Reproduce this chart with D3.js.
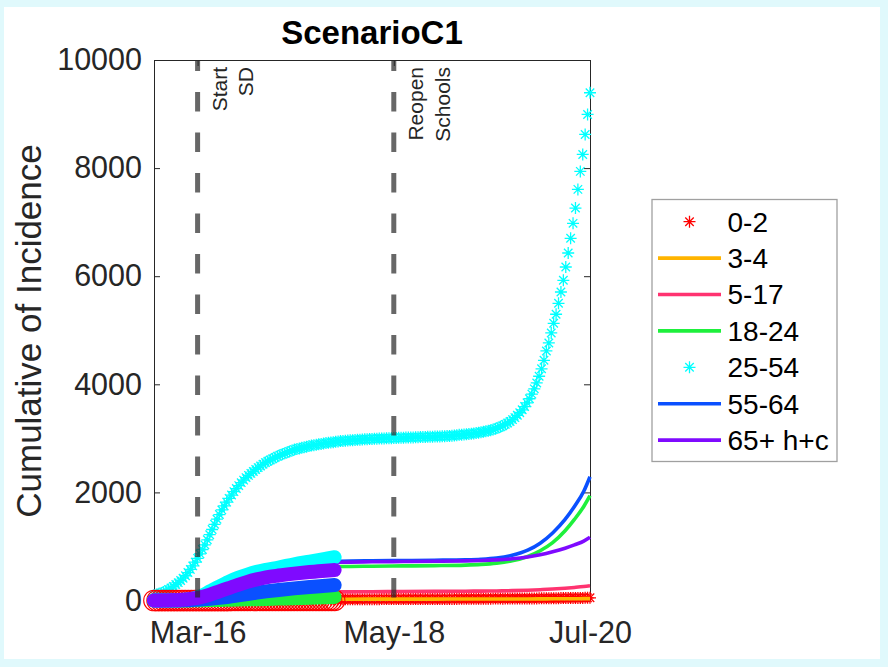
<!DOCTYPE html>
<html><head><meta charset="utf-8">
<script src="https://cdn.jsdelivr.net/npm/d3@7"></script>
<style>body{margin:0;background:#e0f9fc} svg{display:block}</style>
</head><body><svg id="c" width="888" height="667"></svg>
<script>
// ---------------- DATA ----------------
const seriesNames = ["0-2","3-4","5-17","18-24","25-54","55-64","65+ h+c"];
const seriesColors = ["#ff0000","#ffb400","#ff3370","#1ef03c","#00ffff","#0a50ff","#7f0aff"];
const seriesKinds = ["star","line","line","line","star","line","line"];

const yTicks = [0,2000,4000,6000,8000,10000];
const xTickDates = ["2020-03-16","2020-05-18","2020-07-20"];
const xTickLabels = ["Mar-16","May-18","Jul-20"];
const events = ["2020-03-16","2020-05-18"];
const eventLabels = [["Start","SD"],["Reopen","Schools"]];

// model output grid: 181 points from Mar-02 to Jul-20 (days since Mar-02)
const gridCount = 181, gridSpan = 140;
const model25_54 = [
 100,112,123,138,158,177,203,230,260,
 295,330,370,413,458,517,575,640,710,
 780,862,944,1030,1123,1217,1314,1410,1504,
 1590,1676,1750,1820,1889,1951,2014,2071,2125,
 2180,2227,2274,2315,2352,2388,2425,2458,2489,
 2520,2551,2577,2600,2623,2647,2670,2690,2707,
 2724,2741,2758,2775,2792,2802,2813,2824,2835,
 2846,2857,2866,2873,2881,2889,2897,2904,2912,
 2918,2924,2930,2937,2943,2949,2953,2956,2960,
 2963,2966,2970,2973,2976,2979,2982,2984,2987,
 2990,2992,2994,2996,2997,2999,3001,3003,3004,
 3006,3008,3009,3011,3012,3014,3015,3017,3018,
 3020,3022,3023,3025,3026,3028,3029,3031,3032,
 3034,3036,3038,3040,3042,3045,3048,3052,3056,
 3065,3068,3072,3076,3081,3086,3092,3098,3105,
 3113,3121,3130,3140,3152,3165,3179,3195,3214,
 3234,3258,3284,3313,3347,3384,3426,3474,3528,
 3588,3656,3733,3818,3916,4025,4149,4287,4444,
 4617,4765,4950,5129,5296,5499,5708,5924,6170,6429,
 6701,6978,7261,7606,7939,8253,8623,8993,9394
];
const model0_2 = [
 0,0,0,0,1,1,1,1,2,
 2,2,3,3,3,4,4,5,5,
 6,6,7,7,8,8,9,9,10,
 10,11,11,12,12,13,13,13,14,
 14,14,15,15,15,16,16,16,17,
 17,17,17,18,18,18,18,19,19,
 19,19,20,20,20,20,20,21,21,
 21,21,21,21,22,22,22,22,22,
 22,23,23,23,23,23,23,24,24,
 24,24,24,24,24,25,25,25,25,
 25,25,25,25,26,26,26,26,26,
 26,26,27,27,27,27,27,27,27,
 28,28,28,28,28,28,28,29,29,
 29,29,29,29,30,30,30,30,30,
 31,31,31,31,32,32,32,32,33,
 33,33,34,34,34,35,35,36,36,
 34,35,35,35,36,36,36,37,37,
 37,38,38,38,39,39,40,40,41,
 41,41,42,42,43,43,44,44,45,
 45,46,46,47,47,48,48,49,49,50
];

// model lines (days since Mar-02)
const lineDays = [0,5,10,14,18,22,26,30,35,40,45,50,55,60,70,80,90,100,105,110,115,120,124,128,132,135,138,140];
const model3_4   = [0,0,2,5,9,13,16,18,20,21,22,23,24,24,25,26,26,27,27,28,28,29,30,31,32,33,34,35];
const model5_17  = [0,2,10,30,60,90,110,125,137,145,150,154,157,160,163,166,169,172,174,177,182,190,200,212,228,242,258,272];
const model18_24 = [2,8,30,80,150,240,330,410,480,530,570,595,615,628,635,640,645,655,668,692,735,815,920,1070,1290,1500,1740,1940];
const model55_64 = [5,15,50,140,230,320,400,470,545,600,645,680,705,725,735,740,745,752,762,785,835,930,1060,1250,1500,1740,2020,2290];
const model65    = [5,15,50,135,225,315,395,465,540,595,640,672,695,708,716,721,726,733,740,752,772,806,845,900,968,1030,1100,1170];

// observed data (thick markers), days since Mar-02
const dataDays = [0,5,10,15,18,21,24,27,30,33,36,40,45,50,55,58];
const data18_24 = [0,0,1,4,7,10,13,17,21,25,29,35,43,52,60,65];
const data25_54 = [0,3,12,80,170,260,345,420,480,530,568,610,670,720,770,800];
const data55_64 = [0,1,5,20,33,50,70,95,120,145,168,195,225,250,272,285];
const data65    = [0,3,18,60,110,170,230,290,345,390,428,462,497,527,552,563];
const data0_2Days = d3.range(0,59);
const data0_2 = [0,0,0,0,0,0,0,0,0,0,0,0,0,0,0,0,0,0,0,0,
 0,0,0,0,0,1,1,1,1,1,1,1,1,1,1,1,1,1,1,1,
 2,2,2,2,2,2,2,2,2,2,2,2,2,2,2,2,2,2,2];

// ---------------- DRAW ----------------
const FONT = "'Liberation Sans', Arial, Helvetica, sans-serif";
const svg = d3.select("#c");
svg.append("rect").attr("x",4).attr("y",7).attr("width",876).attr("height",652).attr("fill","#fff");

const start = Date.UTC(2020,2,2);
const dayDate = d => new Date(start + d*86400000);
const parse = s => new Date(s + "T00:00:00Z");
const x = d3.scaleUtc().domain([dayDate(0), dayDate(140)]).range([154,590]);
const y = d3.scaleLinear().domain([0,10000]).range([600.5,60]);
const AX = "#262626";

function styleAxis(g){
  g.selectAll("path.domain").attr("stroke",AX).attr("stroke-width",1);
  g.selectAll(".tick line").attr("stroke",AX).attr("stroke-width",1);
  g.selectAll("text").attr("fill",AX).style("font-family",FONT).style("font-size","30.5px");
}
// axes (drawn beneath data)
svg.append("g").attr("transform","translate(154,0)")
  .call(d3.axisLeft(y).tickValues(yTicks).tickFormat(d3.format("d")).tickSize(-6).tickSizeOuter(0).tickPadding(12))
  .call(styleAxis);
svg.append("g").attr("transform","translate(590,0)")
  .call(d3.axisRight(y).tickValues(yTicks).tickFormat("").tickSize(-6).tickSizeOuter(0))
  .call(styleAxis);
svg.append("g").attr("transform","translate(0,600.5)")
  .call(d3.axisBottom(x).tickValues(xTickDates.map(parse)).tickFormat((d,i)=>xTickLabels[i]).tickSize(-6).tickSizeOuter(0).tickPadding(21))
  .call(styleAxis);
svg.append("g").attr("transform","translate(0,60)")
  .call(d3.axisTop(x).tickValues(xTickDates.map(parse)).tickFormat("").tickSize(-6).tickSizeOuter(0))
  .call(styleAxis);

const starPath = s => { const a=s/2, b=a*0.7071;
  return `M${-a},0L${a},0M0,${-a}L0,${a}M${-b},${-b}L${b},${b}M${-b},${b}L${b},${-b}`; };
const gridDay = i => i*gridSpan/(gridCount-1);
const line = d3.line().x(d=>x(dayDate(d[0]))).y(d=>y(d[1])).curve(d3.curveMonotoneX);
const plot = svg.append("g");

function stars(vals, color){
  plot.append("g").selectAll("path").data(vals).join("path")
    .attr("d", starPath(12))
    .attr("transform",(v,i)=>`translate(${x(dayDate(gridDay(i)))},${y(v)})`)
    .attr("stroke",color).attr("stroke-width",1.3).attr("fill","none");
}
function thinLine(vals,color){
  plot.append("path").datum(lineDays.map((d,i)=>[d,vals[i]])).attr("d",line)
    .attr("fill","none").attr("stroke",color).attr("stroke-width",3.6).attr("stroke-linejoin","round");
}
function band(vals,color){
  plot.append("path").datum(dataDays.map((d,i)=>[d,vals[i]])).attr("d",line)
    .attr("fill","none").attr("stroke",color).attr("stroke-width",14)
    .attr("stroke-linecap","round").attr("stroke-linejoin","round");
}
// model curves
stars(model0_2, seriesColors[0]);
thinLine(model3_4, seriesColors[1]);
thinLine(model5_17, seriesColors[2]);
thinLine(model18_24, seriesColors[3]);
stars(model25_54, seriesColors[4]);
thinLine(model55_64, seriesColors[5]);
thinLine(model65, seriesColors[6]);
// observed data
plot.append("g").selectAll("circle").data(data0_2).join("circle")
  .attr("cx",(v,i)=>x(dayDate(data0_2Days[i]))).attr("cy",v=>y(v)).attr("r",10.3)
  .attr("fill","none").attr("stroke",seriesColors[0]).attr("stroke-width",1.1);
band(data18_24, seriesColors[3]);
band(data25_54, seriesColors[4]);
band(data55_64, seriesColors[5]);
band(data65, seriesColors[6]);

// event lines
events.forEach((e,k)=>{
  const ex = x(parse(e));
  svg.append("line").attr("x1",ex).attr("x2",ex).attr("y1",60).attr("y2",600.5)
    .attr("stroke","#262626").attr("stroke-opacity",0.7).attr("stroke-width",5)
    .attr("stroke-dasharray","19.5,21").attr("stroke-dashoffset",8.5);
  eventLabels[k].forEach((t,j)=>{
    svg.append("text").attr("transform",`translate(${ex+29+j*26.8},67) rotate(-90)`)
      .attr("text-anchor","end").attr("fill","#262626")
      .style("font-family",FONT).style("font-size","21px").text(t);
  });
});

// title & label
svg.append("text").attr("x",372).attr("y",44).attr("text-anchor","middle")
  .style("font-family",FONT).style("font-size","33px").style("font-weight","bold").attr("fill","#000").text("ScenarioC1");
svg.append("text").attr("transform","translate(41,331) rotate(-90)").attr("text-anchor","middle")
  .style("font-family",FONT).style("font-size","35px").attr("fill",AX).text("Cumulative of Incidence");

// legend
const lg = svg.append("g");
lg.append("rect").attr("x",652).attr("y",199.5).attr("width",185).attr("height",262)
  .attr("fill","#fff").attr("stroke","#a0a0a0").attr("stroke-width",1.3);
seriesNames.forEach((n,i)=>{
  const ry = 221.7 + i*36.4;
  if(seriesKinds[i]==="star"){
    lg.append("path").attr("d",starPath(12)).attr("transform",`translate(689.5,${ry})`)
      .attr("stroke",seriesColors[i]).attr("stroke-width",1.3).attr("fill","none");
  } else {
    lg.append("line").attr("x1",658).attr("x2",721).attr("y1",ry).attr("y2",ry)
      .attr("stroke",seriesColors[i]).attr("stroke-width",3.6);
  }
  lg.append("text").attr("x",727.5).attr("y",ry+9.8).style("font-family",FONT).style("font-size","28px")
    .attr("fill","#000").text(n);
});
</script></body></html>
